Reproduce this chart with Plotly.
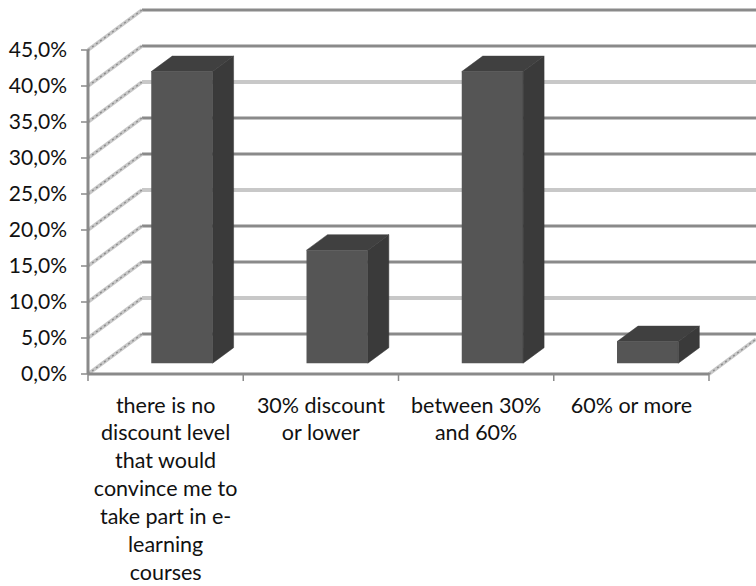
import plotly.graph_objects as go

categories = [
    "there is no<br>discount level<br>that would<br>convince me to<br>take part in e-<br>learning<br>courses",
    "30% discount<br>or lower",
    "between 30%<br>and 60%",
    "60% or more",
]
values = [40.5, 15.7, 40.5, 3.0]
y_ticks = [0, 5, 10, 15, 20, 25, 30, 35, 40, 45]
y_tick_labels = ["0,0%", "5,0%", "10,0%", "15,0%", "20,0%", "25,0%", "30,0%", "35,0%", "40,0%", "45,0%"]
light_grid_levels = [5, 20, 35]

DARK = "#8a8a8a"
LIGHT = "#c8c8c8"

# scale factors of the plot area, pixels per axis unit
PX_X, PX_Y = 155.25, 7.2

# pseudo-3D geometry in axis units
WALL_DX, WALL_DY = 54 / PX_X, 40 / PX_Y
BAR_DX, BAR_DY = 21 / PX_X, 15.5 / PX_Y
BAR_BASE = 1.5
BAR_WIDTH = 0.395
BAR_SHIFT = 0.105
X_LEFT, X_END, X_RIGHT = -0.5, 3.5, 3.5 + 47 / PX_X
TICK_X, TICK_Y = 7 / PX_X, 7 / PX_Y

fig = go.Figure()

fig.add_bar(
    x=list(range(len(values))), y=values, base=BAR_BASE,
    width=BAR_WIDTH, offset=BAR_SHIFT - BAR_WIDTH / 2,
    marker=dict(color="#555555", line_width=0), hoverinfo="skip",
)

for i, v in enumerate(values):
    left = i + BAR_SHIFT - BAR_WIDTH / 2
    right = left + BAR_WIDTH
    top = BAR_BASE + v
    # top face
    fig.add_scatter(
        x=[left, right, right + BAR_DX, left + BAR_DX, left],
        y=[top, top, top + BAR_DY, top + BAR_DY, top],
        mode="lines", fill="toself", fillcolor="#404040",
        line=dict(color="#404040", width=0.5), hoverinfo="skip",
    )
    # side face
    fig.add_scatter(
        x=[right, right + BAR_DX, right + BAR_DX, right, right],
        y=[BAR_BASE, BAR_BASE + BAR_DY, top + BAR_DY, top, BAR_BASE],
        mode="lines", fill="toself", fillcolor="#3a3a3a",
        line=dict(color="#3a3a3a", width=0.5), hoverinfo="skip",
    )

shapes = []


def line(x0, y0, x1, y1, color, width, dash="solid"):
    shapes.append(dict(
        type="line", xref="x", yref="y", layer="below",
        x0=x0, y0=y0, x1=x1, y1=y1,
        line=dict(color=color, width=width, dash=dash),
    ))


SPECKLE = "2px,3px"

for level in y_ticks:
    color = LIGHT if level in light_grid_levels else DARK
    line(X_LEFT + WALL_DX, level + WALL_DY, X_RIGHT, level + WALL_DY, color, 4 if color == LIGHT else 3)
    line(X_LEFT, level, X_LEFT + WALL_DX, level + WALL_DY, LIGHT, 3.5)
    line(X_LEFT, level, X_LEFT + WALL_DX, level + WALL_DY, "#8c8c8c", 1.4, SPECKLE)
    # value axis tick
    line(X_LEFT - TICK_X, level, X_LEFT, level, DARK, 1.5)

# floor edge on the right-hand side
slope = WALL_DY / WALL_DX
line(X_END, 0, X_RIGHT, (X_RIGHT - X_END) * slope, LIGHT, 3.5)
line(X_END, 0, X_RIGHT, (X_RIGHT - X_END) * slope, "#8c8c8c", 1.4, SPECKLE)

# category axis ticks sit on the boundaries between categories
for k in range(len(categories) + 1):
    line(X_LEFT + k, 0, X_LEFT + k, -TICK_Y, DARK, 1.5)

# value and category axis lines
line(X_LEFT, 0, X_LEFT, y_ticks[-1], DARK, 3)
line(X_LEFT, 0, X_END, 0, DARK, 3)

# the plot area reaches past the axis lines so that their full width and ticks show
fig.update_layout(
    shapes=shapes,
    width=756, height=586,
    margin=dict(l=80, r=0, t=4, b=204),
    plot_bgcolor="white", paper_bgcolor="white",
    showlegend=False,
    font=dict(family="Lato, Carlito, sans-serif", size=21, color="#111111"),
    xaxis=dict(
        range=[X_LEFT - 8 / PX_X, X_RIGHT], showgrid=False, zeroline=False, showline=False,
        tickmode="array", tickvals=list(range(len(categories))), ticktext=categories,
        ticks="", tickangle=0, ticklabelposition="outside", automargin=False,
        ticklabelstandoff=8, tickfont=dict(size=21.5),
    ),
    yaxis=dict(
        range=[-8 / PX_Y, (374 - 4) / PX_Y], showgrid=False, zeroline=False, showline=False,
        tickmode="array", tickvals=y_ticks, ticktext=y_tick_labels,
        ticks="", ticklabelstandoff=12, automargin=False,
    ),
)

fig.write_html("out.html")
